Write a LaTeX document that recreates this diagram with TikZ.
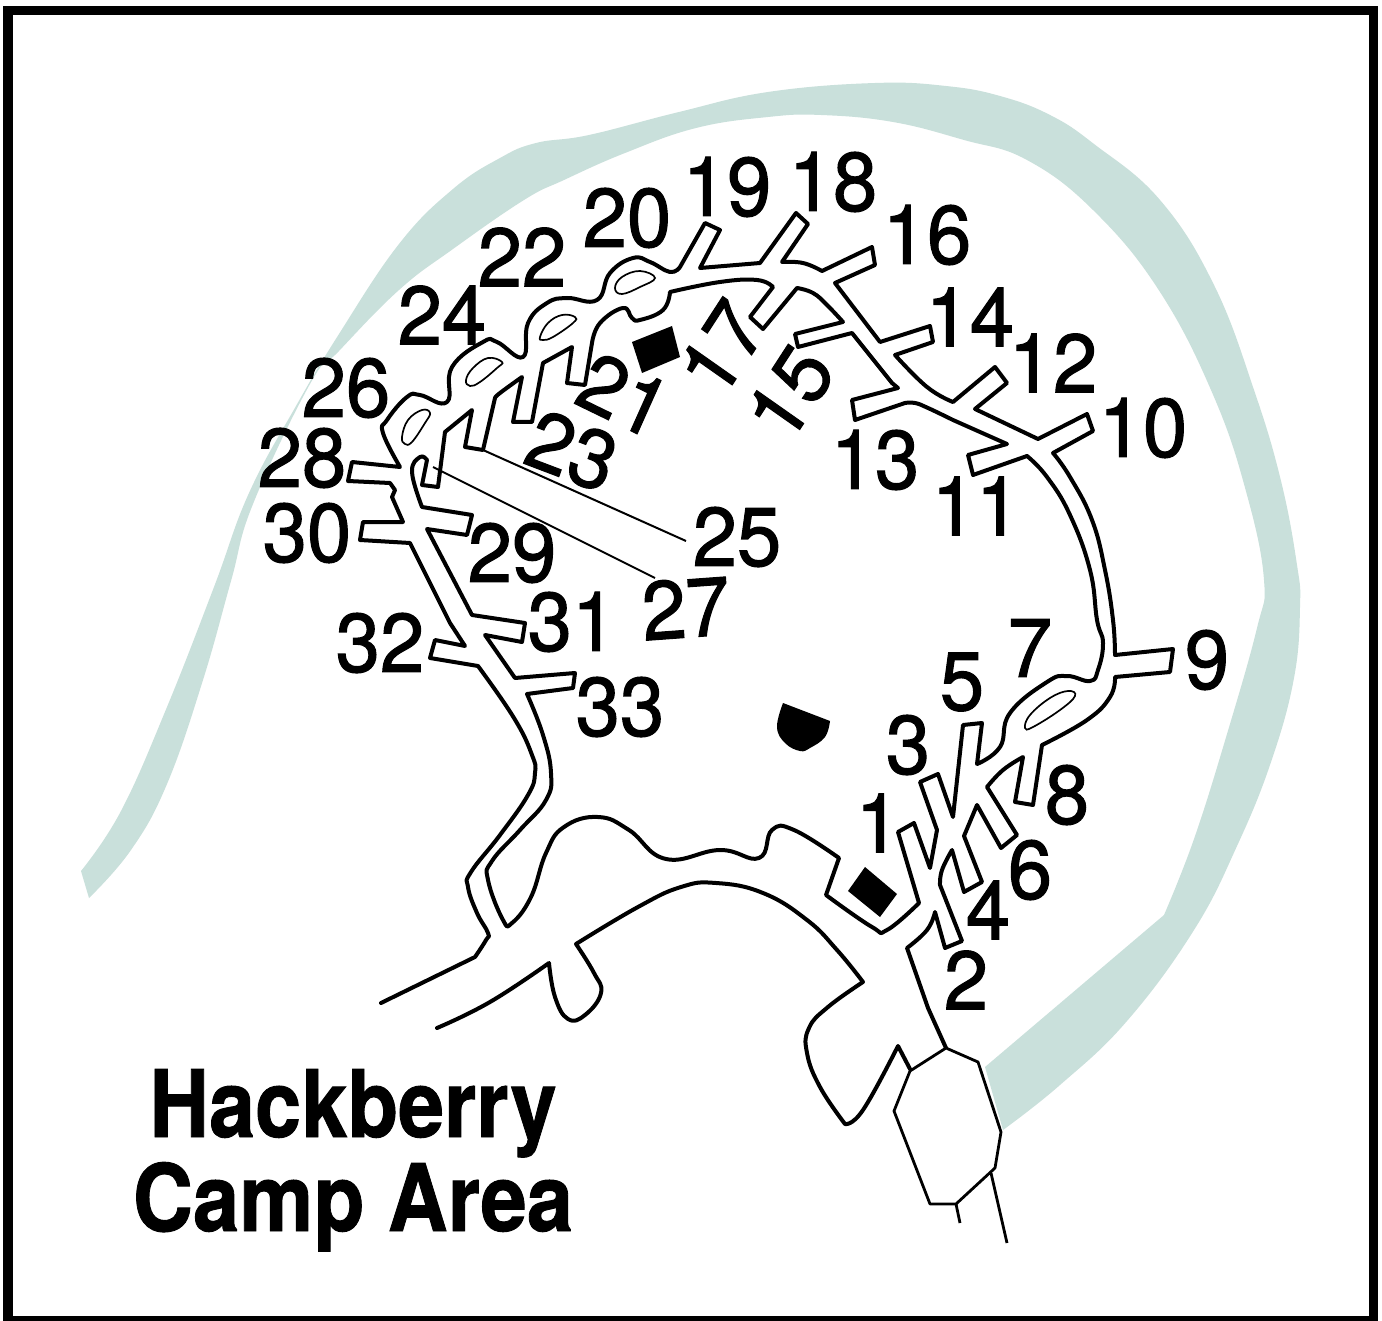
\documentclass[tikz,border=0pt]{standalone}
\usepackage{fontspec}
\newfontface\numfont{TeX Gyre Heros}[FakeBold=1.3]
\newfontface\ttlfont{TeX Gyre Heros Bold}[FakeBold=1.0]
\definecolor{band}{HTML}{C9E0DB}
\tikzset{
  road/.style={draw=black,line width=4pt,line join=round,line cap=round,fill=none},
  isle/.style={draw=black,line width=1.7pt},
  thinroad/.style={draw=black,line width=2.8pt,line join=round},
  leader/.style={draw=black,line width=2pt},
  num/.style={font=\fontsize{83}{83}\numfont,inner sep=0pt,text=black,xscale=.96,transform shape},
  ttl/.style={font=\fontsize{93}{93}\ttlfont,inner sep=0pt,text=black,anchor=base,transform shape},
  smth/.style={smooth,tension=.75}
}
\begin{document}
\begin{tikzpicture}[x=1pt,y=-1pt]
\useasboundingbox (0,0) rectangle (1382,1321);
\fill[white] (0,0) rectangle (1382,1321);
% green band
\fill[band] plot[smooth,tension=.7] coordinates {(81,871)(121,811)(167,707)(214,587)(249,493)(296,406)(339,334)(399,244)(453,189)(500,158)(536,143)(589,135)(679,112)(768,92)(875,83)(946,86)(1000,96)(1050,115)(1094,144)(1160,200)(1214,285)(1254,390)(1281,481)(1297,565)(1300,607)(1294,678)(1271,762)(1237,846)(1194,930)(1127,1021)(1060,1085)(1003,1130)}
 -- (985,1067) -- (1164,915) -- plot[smooth,tension=.7] coordinates {(1164,915)(1194,839)(1227,734)(1257,628)(1264,580)(1247,495)(1214,397)(1160,292)(1094,211)(1027,160)(964,140)(893,122)(821,115)(768,117)(696,128)(625,153)(564,180)(524,200)(453,249)(399,290)(339,351)(310,384)(253,504)(231,581)(203,680)(167,784)(131,850)(89,898)} -- cycle;
% frame
\draw[line width=9.5pt] (8,10.5) rectangle (1373.5,1320.7);
% outer road edge
\draw[road] (381,1003) -- plot[smth] coordinates {(475,957)(486,940)(488,933)(477,913)(468,887)(471,872)(500,835)(528,795)(535,773)(532,755)(514,718)(478,666)}
 -- (430,658) -- (435,640) -- (465,646) -- (450,623) -- (410,543) -- (360,540) -- (363,522) -- (403,522) -- (392,497) -- (395,490) -- (390,483) -- (348,481) -- (352,462) -- (400,467)
 -- plot[smth] coordinates {(400,467)(383,433)(387,420)(407,397)(420,395)(447,402)(452,367)(483,342)(497,342)(523,357)(528,323)(547,303)(567,298)(597,300)(610,273)(633,258)(650,262)(670,272)(680,267)}
 -- (705,223) -- (720,230) -- (700,268) -- (760,263) -- (796,213) -- (808,224) -- (782,262)
 -- plot[smth] coordinates {(782,262)(803,263)(822,271)}
 -- (872,247) -- (875,265) -- (835,283) -- (880,342) -- (930,326) -- (933,342) -- (895,355)
 -- plot[smth] coordinates {(895,355)(927,387)(953,402)}
 -- (995,367) -- (1007,383) -- (975,409) -- (1038,439) -- (1087,414) -- (1093,431) -- (1053,453)
 -- plot[smth] coordinates {(1053,453)(1070,477)(1092,520)(1105,570)(1113,620)(1115,655)}
 -- (1173,649) -- (1170,672) -- (1115,677)
 -- plot[smth] coordinates {(1115,677)(1110,697)(1087,720)(1042,745)}
 -- (1033,805) -- (1015,802) -- (1023,757)
 -- plot[smth] coordinates {(1023,757)(1003,770)(987,787)}
 -- (1017,835) -- (1001,848) -- (977,805)
 -- (964,836) -- (982,882) -- (964,892) -- (952,850)
 -- plot[smth] coordinates {(952,850)(942,870)(940,885)}
 -- (962,941) -- (945,948) -- (935,912)
 -- plot[smth] coordinates {(935,912)(927,930)(907,948)}
 -- (928,1008) -- (946,1048);
% inner road edge
\draw[road] (1027,456) -- (973,475) -- (968,455) -- (1007,444)
 -- (953,420) -- plot[smth] coordinates {(953,420)(928,408)(915,403)(905,403)}
 -- (855,420) -- (852,400) -- (898,388) -- (892,383) -- (852,333) -- (798,347) -- (795,334) -- (843,322)
 -- plot[smth] coordinates {(843,322)(827,305)(813,293)(797,288)}
 -- (763,329) -- (750,317) -- (773,287)
 -- plot[smth] coordinates {(773,287)(757,280)(720,282)(670,292)}
 -- plot[smth] coordinates {(670,292)(663,310)(640,320)(632,318)(623,308)(600,323)(592,343)}
 -- (585,385) -- (567,383) -- (572,347) -- (543,363) -- (532,422) -- (513,422) -- (522,377)
 -- plot[smth] coordinates {(522,377)(500,393)(495,398)}
 -- (483,450) -- (465,447) -- (472,410) -- (445,432) -- (438,487) -- (422,485) -- (427,460)
 -- plot[smth] coordinates {(427,460)(420,457)(412,472)(422,507)}
 -- (472,515) -- (467,535) -- (427,529) -- (472,615) -- (525,623) -- (522,642) -- (485,635) -- (515,678) -- (575,673) -- (573,688) -- (527,694)
 -- plot[smth] coordinates {(527,694)(543,735)(551,773)(546,800)(520,830)(492,861)(488,880)(503,920)(512,923)(531,897)(546,853)(564,827)(598,817)(629,830)(666,859)(720,850)(759,858)(772,830)(794,830)(839,858)}
 -- plot[smth] coordinates {(839,858)(826,895)}
 -- plot[smth] coordinates {(826,895)(872,927)(887,930)(919,903)}
 -- (898,832) -- (914,823) -- (930,868)
 -- plot[smth] coordinates {(930,868)(937,830)}
 -- (920,782) -- (938,774) -- (953,817) -- (963,725) -- (982,723) -- (977,764)
 -- plot[smth] coordinates {(977,764)(1000,747)(1010,713)(1047,682)(1067,676)(1090,681)(1098,670)(1103,643)(1097,620)(1090,570)(1070,515)(1047,477)(1027,456)};
% south road
\draw[road] (437,1028) -- plot[smth] coordinates {(437,1028)(490,1002)(549,963)}
 -- plot[smth] coordinates {(549,963)(555,997)(568,1019)(585,1015)(601,993)(594,973)(576,944)}
 -- plot[smth] coordinates {(576,944)(638,907)(681,887)(716,883)(763,893)(807,920)(837,950)(863,982)}
 -- plot[smth] coordinates {(863,982)(828,1007)(809,1028)(807,1053)(820,1087)(845,1124)}
 -- plot[smth] coordinates {(845,1124)(863,1110)(898,1046)}
 -- (910,1069);
% parking hexagon
\path[thinroad,fill=white] (946,1048) -- (978,1062) -- (1001,1132) -- (995,1168) -- (956,1204) -- (930,1204) -- (894,1111) -- (910,1071) -- cycle;
\draw[thinroad] (956,1204) -- (960,1223);
\draw[thinroad] (991,1173) -- (1007,1243);
% islands
\draw[isle] plot[smooth cycle,tension=.7] coordinates {(615,288)(622,277)(640,271)(655,278)(640,287)(622,294)};
\draw[isle] plot[smooth cycle,tension=.7] coordinates {(540,337)(548,323)(562,315)(575,317)(573,323)(553,337)(543,340)};
\draw[isle] plot[smooth cycle,tension=.7] coordinates {(466,380)(473,368)(488,358)(502,362)(497,368)(480,382)(470,386)};
\draw[isle] plot[smooth cycle,tension=.7] coordinates {(402,437)(408,420)(422,410)(430,413)(425,423)(412,442)(405,444)};
\draw[isle] plot[smooth cycle,tension=.7] coordinates {(1025,728)(1030,715)(1050,698)(1068,691)(1075,696)(1060,710)(1033,727)};
% solid marks
\fill (632,342) -- (672,326) -- (680,357) -- (642,373) -- cycle;
\fill (865,867) -- (897,894) -- (880,917) -- (848,891) -- cycle;
\fill (783,703) -- (830,721) -- plot[smooth,tension=.7] coordinates {(830,721)(825,737)(810,748)(800,751)(785,743)(777,727)(783,703)} -- cycle;
% leaders
\coordinate (lA) at (483,450);
\coordinate (lB) at (433,467);
\node[num] (n25) at (737,537) {25};
\node[num,rotate=4] (n27) at (686,608) {27};
\draw[leader] (lA) -- (686,541);
\draw[leader] (lB) -- (655,578);
% labels
\node[num] (n1) at (878,823) {1};
\node[num] (n2) at (966,980) {2};
\node[num] (n3) at (908,745) {3};
\node[num] (n4) at (988,910) {4};
\node[num] (n5) at (962,682) {5};
\node[num] (n6) at (1030,870) {6};
\node[num] (n7) at (1030,648) {7};
\node[num] (n8) at (1067,795) {8};
\node[num] (n9) at (1207,660) {9};
\node[num] (n10) at (1143,428) {10};
\node[num] (n11) at (976,506) {11};
\node[num] (n12) at (1053,363) {12};
\node[num] (n13) at (875,460) {13};
\node[num] (n14) at (970,317) {14};
\node[num,rotate=56] (n15) at (790,393) {15};
\node[num] (n16) at (927,235) {16};
\node[num,rotate=56] (n17) at (722,348) {17};
\node[num] (n18) at (833,182) {18};
\node[num] (n19) at (727,187) {19};
\node[num] (n20) at (627,218) {20};
\node[num,rotate=-25] (n21) at (624,395) {21};
\node[num] (n22) at (522,257) {22};
\node[num,rotate=-20] (n23) at (572,451) {23};
\node[num] (n24) at (442,315) {24};
\node[num] (n26) at (346,388) {26};
\node[num] (n28) at (302,458) {28};
\node[num] (n29) at (512,553) {29};
\node[num] (n30) at (307,533) {30};
\node[num] (n31) at (572,622) {31};
\node[num] (n32) at (380,643) {32};
\node[num] (n33) at (620,707) {33};
\node[ttl,xscale=.89] (t1) at (353,1137) {Hackberry};
\node[ttl,xscale=.895] (t2) at (353,1231) {Camp Area};
\end{tikzpicture}
\end{document}
